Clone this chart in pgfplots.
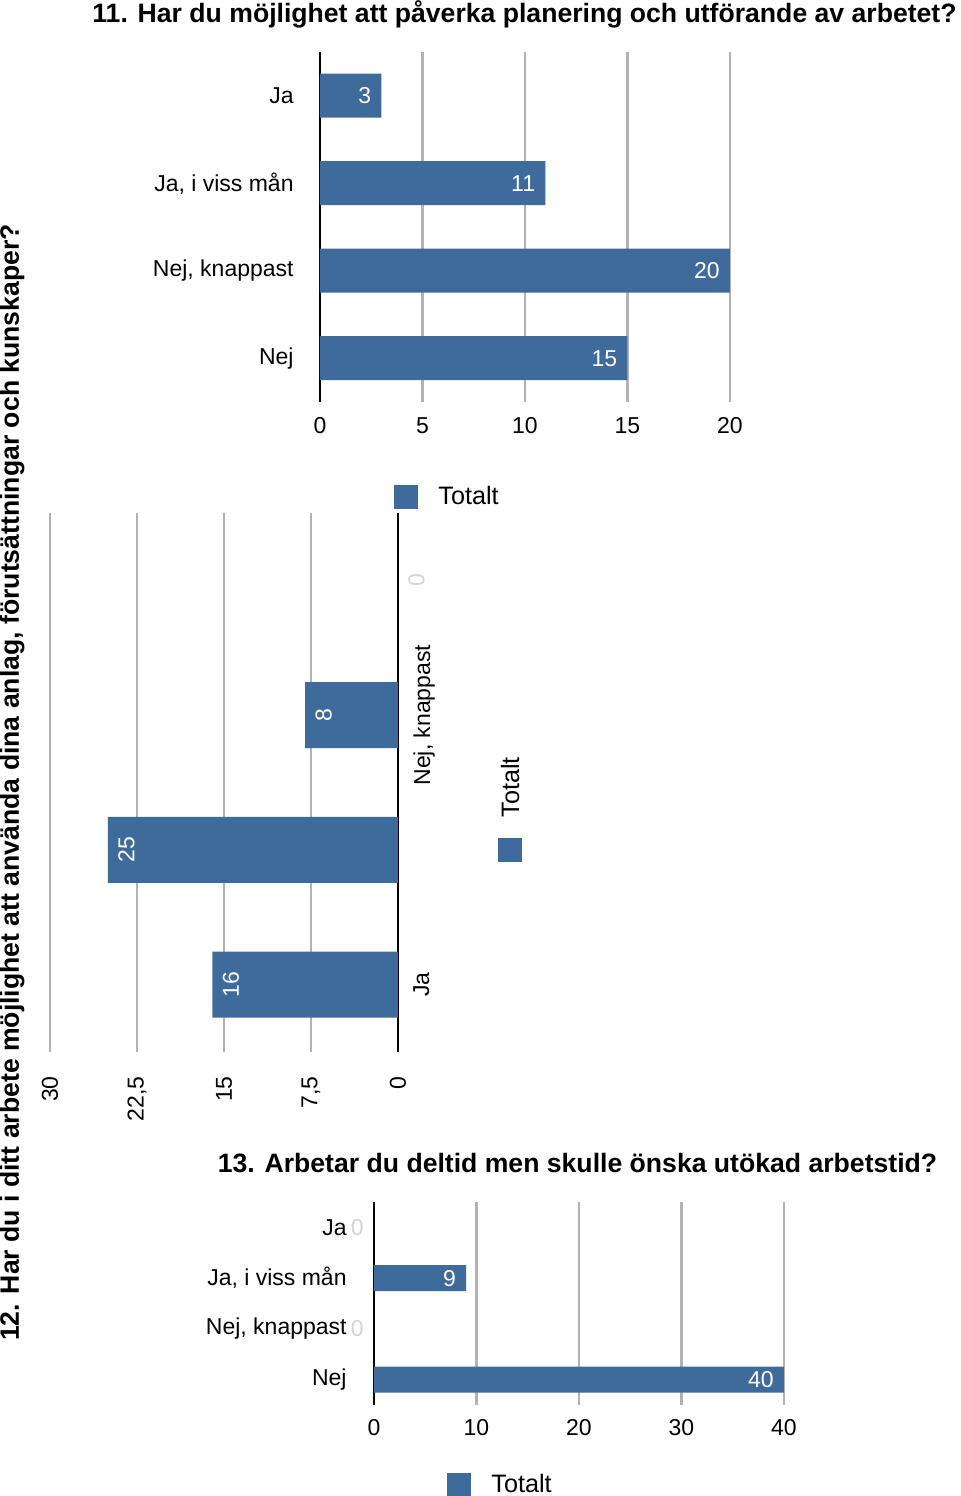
\documentclass[border=0pt]{standalone}
\usepackage{pgfplots}
\pgfplotsset{compat=1.18}
\usepackage{fontspec}
\setmainfont{Liberation Sans}
\definecolor{barblue}{RGB}{62,107,156}
\definecolor{gridgray}{RGB}{178,178,178}
\definecolor{zerogray}{RGB}{212,212,212}
\pgfplotsset{
  common/.style={
    scale only axis,
    clip=false,
    enlargelimits=false,
    /pgf/number format/assume math mode=true,
    tick label style={font=\fontsize{11.5}{13}\selectfont},
    xmajorgrids, ymajorgrids=false,
    grid style={gridgray, line width=1.3pt},
    major tick length=0pt,
    axis x line*=bottom,
    x axis line style={draw=none},
    y axis line style={-, black, line width=1.1pt},
    xbar, bar shift=0pt,
    legend style={draw=none, fill=none, inner sep=0pt, font=\fontsize{12.6}{14}\selectfont, /tikz/column sep=8pt},
    legend image code/.code={\fill[barblue] (0pt,-6pt) rectangle (12pt,6pt);},
  }
}
\begin{document}
\begin{tikzpicture}
\useasboundingbox (0pt,0pt) rectangle (480pt,748pt);
% titles
\node[font=\bfseries\fontsize{13.3}{15}\selectfont] at (262.25pt,741pt) {11. Har du möjlighet att påverka planering och utförande av arbetet?};
\node[font=\bfseries\fontsize{13.3}{15}\selectfont] at (288.75pt,166.5pt) {13. Arbetar du deltid men skulle önska utökad arbetstid?};
\node[font=\bfseries\fontsize{13.3}{15}\selectfont, rotate=90] at (6pt,356.75pt) {12. Har du i ditt arbete möjlighet att använda dina anlag, förutsättningar och kunskaper?};

% chart 11
\begin{axis}[common, at={(160pt,722pt)}, anchor=north west, width=205pt, height=175pt,
  axis y line*=left,
  bar width=22pt,
  xmin=0, xmax=20, xtick={0,5,10,15,20},
  ymin=-0.5, ymax=3.5, ytick={0,1,2,3},
  yticklabels={Nej,{Nej, knappast},{Ja, i viss mån},Ja},
  yticklabel style={anchor=east, inner xsep=13pt},
  xticklabel style={inner ysep=7.5pt},
  every node near coord/.append style={anchor=east, inner xsep=5pt, font=\fontsize{11.5}{13}\selectfont},
  legend style={at={(0.1805,-0.2286)}, anchor=north west},
]
\addplot[fill=barblue, draw=none, nodes near coords, every node near coord/.append style={text=white}] coordinates {(15,0) (20,1) (11,2) (3,3)};
\legend{Totalt}
\end{axis}

% chart 12 (rotated)
\begin{axis}[common, at={(25pt,491.5pt)}, anchor=north west, width=174pt, height=269.5pt,
  axis y line*=right, yticklabel pos=right,
  bar width=33pt, x dir=reverse,
  xmin=0, xmax=30, xtick={0,7.5,15,22.5,30},
  /pgf/number format/use comma,
  ymin=-0.5, ymax=3.5, ytick={0,1,2,3},
  yticklabels={Ja,,{Nej, knappast},},
  xticklabel style={rotate=90, anchor=east, inner xsep=12pt},
  yticklabel style={rotate=90, anchor=north, inner ysep=7.5pt},
  every node near coord/.append style={rotate=90, anchor=north, inner ysep=5pt, font=\fontsize{11.5}{13}\selectfont},
]
\addplot[fill=barblue, draw=none, nodes near coords, every node near coord/.append style={text=white}] coordinates {(16,0) (25,1) (8,2)};
\addplot[draw=none, fill=none, forget plot, nodes near coords, every node near coord/.append style={text=zerogray}] coordinates {(0,3)};
\end{axis}
\fill[barblue] (249pt,317pt) rectangle (261pt,329pt);
\node[rotate=90, anchor=west, inner sep=0pt, font=\fontsize{12.6}{14}\selectfont] at (255pt,339pt) {Totalt};

% chart 13
\begin{axis}[common, at={(187pt,147pt)}, anchor=north west, width=205pt, height=101.5pt,
  axis y line*=left,
  bar width=13pt,
  xmin=0, xmax=40, xtick={0,10,20,30,40},
  ymin=-0.5, ymax=3.5, ytick={0,1,2,3},
  yticklabels={Nej,{Nej, knappast},{Ja, i viss mån},Ja},
  yticklabel style={anchor=east, inner xsep=13.5pt},
  xticklabel style={inner ysep=7pt},
  every node near coord/.append style={anchor=east, inner xsep=5pt, font=\fontsize{11.5}{13}\selectfont},
  legend style={at={(0.178,-0.320)}, anchor=north west},
]
\addplot[fill=barblue, draw=none, nodes near coords, every node near coord/.append style={text=white}] coordinates {(40,0) (9,2)};
\addplot[draw=none, fill=none, forget plot, nodes near coords, every node near coord/.append style={text=zerogray}] coordinates {(0,1) (0,3)};
\legend{Totalt}
\end{axis}
\end{tikzpicture}
\end{document}
